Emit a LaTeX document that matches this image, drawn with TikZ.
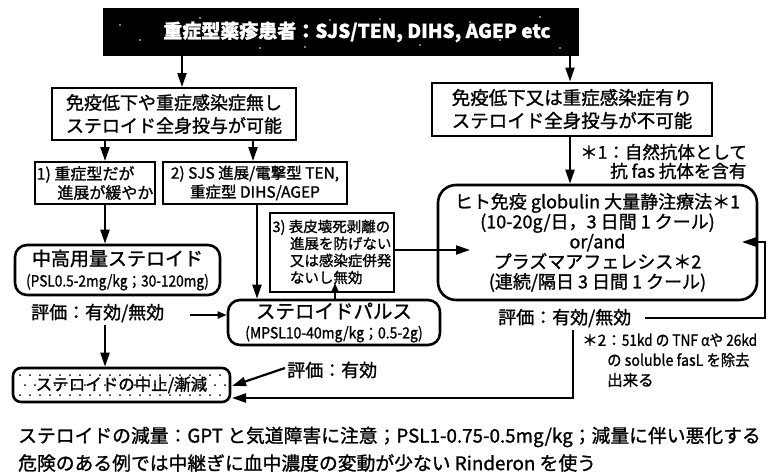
\documentclass[tikz,border=0pt]{standalone}
\usepackage{fontspec}
\setmainfont{Noto Sans CJK JP}[FakeBold=1.2]
\usetikzlibrary{arrows.meta}
\begin{document}
\begin{tikzpicture}[x=1pt,y=-1pt,
  box/.style={draw, line width=2pt, inner sep=0pt, align=center},
  rbox/.style={draw, line width=2.6pt, inner sep=0pt, align=center, rounded corners=12pt},
  arr/.style={line width=2.2pt, -{Triangle[length=14pt,width=9pt]}},
  sarr/.style={line width=2pt, -{Triangle[length=9pt,width=7pt]}},
  ln/.style={line width=2pt},
  lbl/.style={inner sep=0pt, anchor=west, align=left}]
\useasboundingbox (0,0) rectangle (771,474);

% top box
\node[draw, fill=black, line width=1pt, minimum width=475pt, minimum height=47pt, inner sep=0pt] (top) at (340.5,32) {};
\foreach \p in {(120,25),(140,40),(200,18),(260,48),(330,20),(420,45),(470,22),(500,40),(540,17),(560,48),(305,47),(380,19)}
  \fill[white] \p circle (0.8);
\node[text=white, font=\fontsize{19}{22}\selectfont\bfseries, inner sep=0pt] (toptxt) at (357,32) {重症型薬疹患者：SJS/TEN, DIHS, AGEP etc};

% level 2 boxes
\node[box, minimum width=244pt, minimum height=52pt, font=\fontsize{18}{23}\selectfont] (lbox) at (174,114) {免疫低下や重症感染症無し\\ステロイド全身投与が可能};
\node[box, minimum width=280pt, minimum height=53pt, font=\fontsize{18.5}{23}\selectfont] (rbox) at (572,109) {免疫低下又は重症感染症有り\\ステロイド全身投与が不可能};

% level 3 boxes
\node[box, minimum width=120pt, minimum height=42pt, align=left, font=\fontsize{16}{19}\selectfont] (b1) at (95,183) {1) 重症型だが\\\hspace{1.3em}進展が緩やか};
\node[box, minimum width=184pt, minimum height=42pt, font=\fontsize{15.5}{19}\selectfont] (b2) at (255,183) {2) SJS 進展/電撃型 TEN,\\重症型 DIHS/AGEP};
\node[box, minimum width=124pt, minimum height=79pt, align=left, font=\fontsize{14.5}{17}\selectfont] (b3) at (332,252) {3) 表皮壊死剥離の\\\hspace{1.2em}進展を防げない\\\hspace{1.2em}又は感染症併発\\\hspace{1.2em}ないし無効};

% treatment boxes
\node[rbox, minimum width=205pt, minimum height=50pt, font=\fontsize{19}{21}\selectfont] (mid) at (117.5,270) {中高用量ステロイド\\{\fontsize{15.5}{17}\selectfont\scalebox{0.88}[1]{(PSL0.5-2mg/kg；30-120mg)}}};
\node[rbox, rounded corners=18pt, minimum width=319pt, minimum height=115pt, font=\fontsize{18}{20}\selectfont] (ivig) at (597.5,242.5) {ヒト免疫 globulin 大量静注療法＊1\\(10-20g/日，3 日間 1 クール)\\or/and\\プラズマアフェレシス＊2\\(連続/隔日 3 日間 1 クール)};
\node[rbox, minimum width=212pt, minimum height=45pt, font=\fontsize{19.5}{20}\selectfont] (pulse) at (334,322.5) {ステロイドパルス\\{\fontsize{15.5}{17}\selectfont\scalebox{0.9}[1]{(MPSL10-40mg/kg；0.5-2g)}}};

% stop box with dots
\foreach \i in {0,...,20} \foreach \j in {0,1,2}
  \fill ({20+\i*10+mod(\j,2)*5},{375+\j*10}) circle (1);
\node[rbox, rounded corners=8pt, minimum width=217pt, minimum height=34pt, font=\fontsize{16.5}{20}\selectfont] (stop) at (121.5,385) {ステロイドの中止/漸減};

% evaluation labels
\node[lbl, font=\fontsize{18}{20}\selectfont] (ev1) at (31,313) {評価：有効/無効};
\node[lbl, font=\fontsize{18}{20}\selectfont] (ev2) at (498,318) {評価：有効/無効};
\node[lbl, font=\fontsize{18}{20}\selectfont] (ev3) at (287,370) {評価：有効};

% notes
\node[lbl, font=\fontsize{17.5}{18}\selectfont] (n1a) at (580,152) {＊1：自然抗体として};
\node[lbl, font=\fontsize{17.5}{18}\selectfont] (n1b) at (610,171) {抗 fas 抗体を含有};
\node[lbl, font=\fontsize{15.5}{18}\selectfont] (n2a) at (582,340) {＊2：\scalebox{0.88}[1]{51kd の TNF αや 26kd}};
\node[lbl, font=\fontsize{15.5}{18}\selectfont] (n2b) at (607,360) {\scalebox{0.92}[1]{の soluble fasL を除去}};
\node[lbl, font=\fontsize{15.5}{18}\selectfont] (n2c) at (607,380) {出来る};

\node[lbl, font=\fontsize{18.8}{20}\selectfont] (foot1) at (18,437) {ステロイドの減量：GPT と気道障害に注意；PSL1-0.75-0.5mg/kg；減量に伴い悪化する};
\node[lbl, font=\fontsize{18.8}{20}\selectfont] (foot2) at (18,463) {危険のある例では中継ぎに血中濃度の変動が少ない Rinderon を使う};

% connectors
\draw[arr] (182,0 |- top.south) -- (182,0 |- lbox.north);
\draw[arr] (570,0 |- top.south) -- (570,0 |- rbox.north);
\draw[arr] (105,0 |- lbox.south) -- (105,0 |- b1.north);
\draw[arr] (253,0 |- lbox.south) -- (253,0 |- b2.north);
\draw[arr] (105,0 |- b1.south) -- (105,0 |- mid.north);
\draw[arr] (257,0 |- b2.south) -- (257,0 |- pulse.north);
\draw[sarr] (335,0 |- pulse.north) -- (335,283);
\draw[arr] (b3.east |- 0,250) -- (470,250);
\draw[arr] (570,0 |- rbox.south) -- (570,0 |- ivig.north);
\draw[arr] (105,325) -- (105,0 |- stop.north);
\draw[sarr] (190,315) -- (pulse.west |- 0,315);
\draw[arr] (ev3.west) ++(-2,-2) -- (232,386);
\draw[arr] (573,330) -- (573,398) -- (232,398);
\draw[arr] (ev2.east) ++(14,0) -- (765,318) -- (765,242) -- (742,242);
\end{tikzpicture}
\end{document}
